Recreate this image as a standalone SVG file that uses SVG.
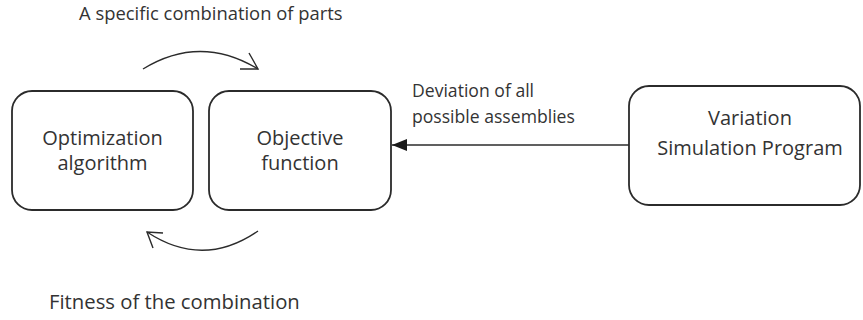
<svg xmlns="http://www.w3.org/2000/svg" width="863" height="320" viewBox="0 0 863 320">
<defs>
<style>
.box{fill:#fff;stroke:#2b2b2b;stroke-width:1.8}
.t{font-family:"Open Sans","Liberation Sans",sans-serif;fill:#333;font-size:20px}
.lbl{font-family:"Open Sans","Liberation Sans",sans-serif;fill:#333;font-size:17.6px}
.c{fill:none;stroke:#2b2b2b;stroke-width:1.4}
</style>
<marker id="tri" markerWidth="16" markerHeight="12" refX="15" refY="6" orient="auto" markerUnits="userSpaceOnUse">
<path d="M0,0 L15,6 L0,12 Z" fill="#1a1a1a"/>
</marker>
</defs>
<rect width="863" height="320" fill="#fff"/>
<g id="optimization">
<rect class="box" x="12" y="91" width="181" height="119" rx="20"/>
<text class="t" x="102.5" y="145" text-anchor="middle">Optimization</text>
<text class="t" x="102.5" y="170" text-anchor="middle">algorithm</text>
</g>
<g id="objective">
<rect class="box" x="209" y="91" width="182" height="119" rx="20"/>
<text class="t" x="300" y="145" text-anchor="middle">Objective</text>
<text class="t" x="300" y="170" text-anchor="middle">function</text>
</g>
<g id="variation">
<rect class="box" x="629" y="86" width="231" height="119" rx="20"/>
<text class="t" x="750" y="125" text-anchor="middle">Variation</text>
<text class="t" x="750" y="155" text-anchor="middle">Simulation Program</text>
</g>
<g id="connectors">
<line class="c" x1="629" y1="145" x2="392" y2="145" marker-end="url(#tri)"/>
<path class="c" d="M143,69 Q200,34 258,69"/>
<path class="c" d="M249,53 L258,69 L240,69"/>
<path class="c" d="M258,231 Q203,269 147,232"/>
<path class="c" d="M163,233 L147,232 L153,248"/>
</g>
<g id="labels">
<text class="lbl" x="79" y="20" style="font-size:18.4px">A specific combination of parts</text>
<text class="lbl" x="412" y="97">Deviation of all</text>
<text class="lbl" x="412" y="123">possible assemblies</text>
<text class="t" x="49" y="309" style="font-size:20.3px">Fitness of the combination</text>
</g>
</svg>
